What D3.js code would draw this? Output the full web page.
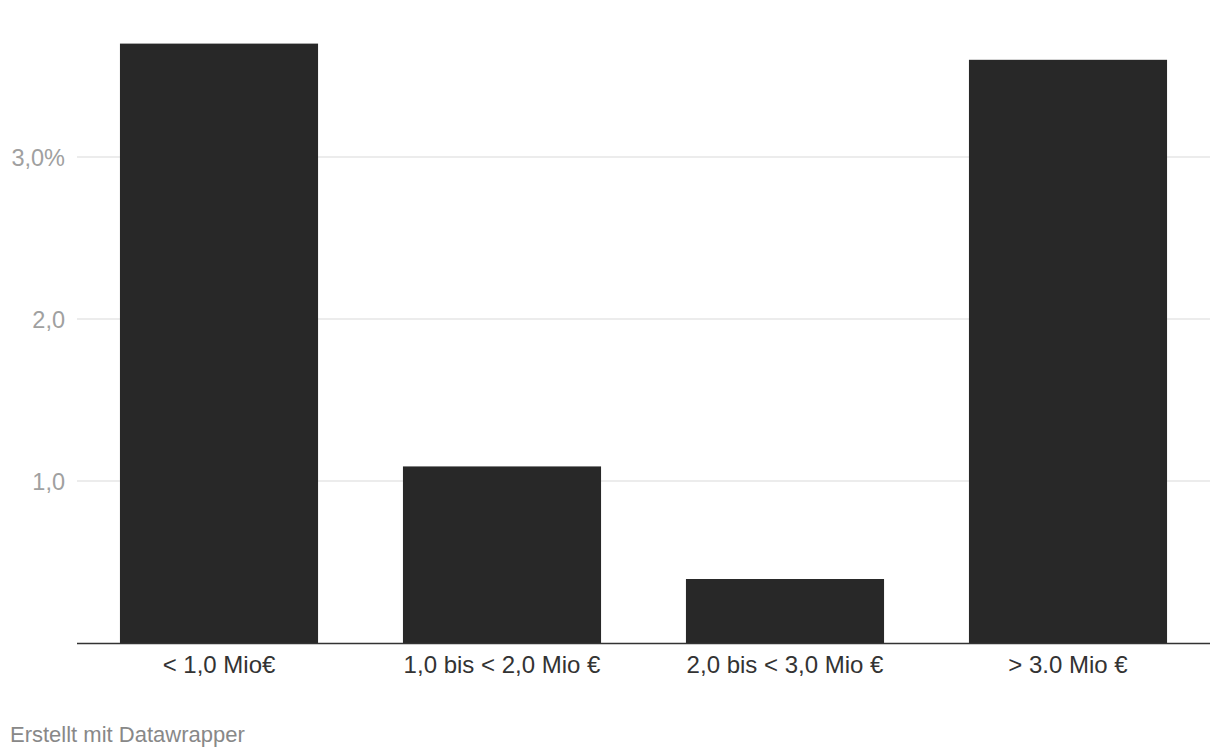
<!DOCTYPE html>
<html><head><meta charset="utf-8">
<script src="https://cdn.jsdelivr.net/npm/d3@7"></script>
<style>
html,body{margin:0;padding:0;background:#fff;}
svg text{font-family:"Liberation Sans",Arial,Helvetica,sans-serif;}
</style></head>
<body>
<svg id="chart" width="1220" height="756"></svg>
<script>
const categories = ["< 1,0 Mio€", "1,0 bis < 2,0 Mio €", "2,0 bis < 3,0 Mio €", "> 3.0 Mio €"];
const values = [3.7, 1.09, 0.395, 3.6];
const yTicks = [1, 2, 3];
const yTickLabels = ["1,0", "2,0", "3,0%"];

const svg = d3.select("#chart");
const x = d3.scaleBand().domain(categories).range([77.5, 1209.5]).paddingInner(0.3).paddingOuter(0.15);
const y = d3.scaleLinear().domain([0, 1]).range([643, 481]);

// y axis labels
const yAxis = d3.axisLeft(y).tickValues(yTicks).tickSize(0).tickFormat((d,i)=>yTickLabels[i]);
const gy = svg.append("g").attr("transform","translate(65,0)").call(yAxis);
gy.select(".domain").remove();
gy.attr("font-size",null).attr("font-family",null);
gy.selectAll("text").attr("fill","#a0a0a0").style("font-size","23.5px").attr("dx","0").attr("dy","0.35em").attr("x",0);

// grid
svg.append("g").selectAll("line").data(yTicks).join("line")
  .attr("x1",77).attr("x2",1210)
  .attr("y1",d=>y(d)).attr("y2",d=>y(d))
  .attr("stroke","#e6e6e6").attr("stroke-width",1.5);

svg.append("g").selectAll("rect").data(values).join("rect")
  .attr("x",(d,i)=>x(categories[i]))
  .attr("width",x.bandwidth())
  .attr("y",d=>y(d))
  .attr("height",d=>y(0)-y(d))
  .attr("fill","#282828");

// x axis
const xAxis = d3.axisBottom(x).tickSize(0).tickPadding(0);
const gx = svg.append("g").attr("transform",`translate(0,${y(0)})`).call(xAxis);
gx.select(".domain").remove();
gx.attr("font-size",null).attr("font-family",null);
gx.selectAll("text").attr("fill","#333").style("font-size","24px").attr("dy","0").attr("y",30);

svg.append("line").attr("x1",77).attr("x2",1210).attr("y1",y(0)+0.5).attr("y2",y(0)+0.5)
  .attr("stroke","#333").attr("stroke-width",1.6);

svg.append("text").attr("x",10).attr("y",742).attr("fill","#888").style("font-size","22px")
  .text("Erstellt mit Datawrapper");
</script>
</body></html>
